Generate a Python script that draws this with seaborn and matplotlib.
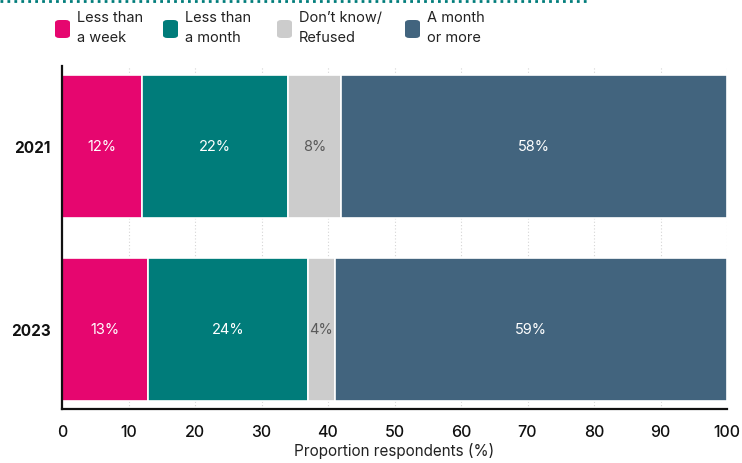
import matplotlib
matplotlib.use("Agg")
import matplotlib.pyplot as plt
from matplotlib.patches import FancyBboxPatch
from matplotlib.lines import Line2D
import seaborn as sns
import pandas as pd

years = ["2021", "2023"]
categories = ["Less than\na week", "Less than\na month", "Don\u2019t know/\nRefused", "A month\nor more"]
less_week = [12, 13]
less_month = [22, 24]
dont_know = [8, 4]
month_more = [58, 59]
colors = ["#E6066F", "#007C7A", "#CCCCCC", "#42647E"]
label_colors = ["white", "white", "#5A5A5A", "white"]
ticks = [0, 10, 20, 30, 40, 50, 60, 70, 80, 90, 100]

sns.set_theme(style="white")
plt.rcParams["font.family"] = ["Inter", "DejaVu Sans"]

df = pd.DataFrame({"year": years, "c0": less_week, "c1": less_month,
                   "c2": dont_know, "c3": month_more})

fig = plt.figure(figsize=(7.42, 4.64), dpi=100)
ax = fig.add_axes([62 / 742, 1 - 410 / 464, 665 / 742, 343 / 464])

# stacked horizontal bars, one layer per category
left = [0.0, 0.0]
series = ["c0", "c1", "c2", "c3"]
for i, col in enumerate(series):
    vals = df[col].tolist()
    ax.barh(df["year"], vals, left=left, height=0.78, color=colors[i],
            edgecolor="white", linewidth=1.2, zorder=2)
    for j, v in enumerate(vals):
        ax.text(left[j] + v / 2, j, f"{v}%", ha="center", va="center",
                color=label_colors[i], fontsize=10.5, zorder=3)
    left = [l + v for l, v in zip(left, vals)]

ax.set_xlim(0, 100)
ax.set_ylim(1.435, -0.44)
ax.set_xticks(ticks)
ax.set_xticklabels([str(t) for t in ticks], fontsize=11.5, color="#111111",
                   fontweight="medium")
ax.tick_params(axis="x", length=0, pad=11)
ax.tick_params(axis="y", length=0, pad=8)
for lbl in ax.get_yticklabels():
    lbl.set_fontweight("bold")
    lbl.set_fontsize(11)
    lbl.set_color("#111111")
ax.set_xlabel("Proportion respondents (%)", fontsize=11, color="#222222", labelpad=2)
ax.set_ylabel("")

ax.xaxis.grid(True, linestyle=(0, (1, 2)), color="#D5D5D5", linewidth=0.8, zorder=0)
ax.set_axisbelow(True)
for s in ["top", "right"]:
    ax.spines[s].set_visible(False)
for s in ["left", "bottom"]:
    ax.spines[s].set_color("#111111")
    ax.spines[s].set_linewidth(1.6)

# dotted rule across the top of the figure
fig.add_artist(Line2D([0.0, 590 / 742], [1 - 2 / 464, 1 - 2 / 464],
                      transform=fig.transFigure, color="#007C7A",
                      linewidth=2, linestyle=(0, (1, 1.5))))

# legend: rounded swatches with two-line labels
leg_x = [55, 163, 277, 405]
for x, c, t in zip(leg_x, colors, categories):
    fig.add_artist(FancyBboxPatch((x / 742, 1 - 39 / 464), 15 / 742, 18 / 464,
                                  boxstyle="round,pad=0,rounding_size=0.006",
                                  transform=fig.transFigure, facecolor=c,
                                  edgecolor="none"))
    fig.text((x + 22) / 742, 1 - 11 / 464, t, fontsize=10.5, color="#222222",
             va="top", ha="left", linespacing=1.5)

fig.savefig("out.png", dpi=100)
